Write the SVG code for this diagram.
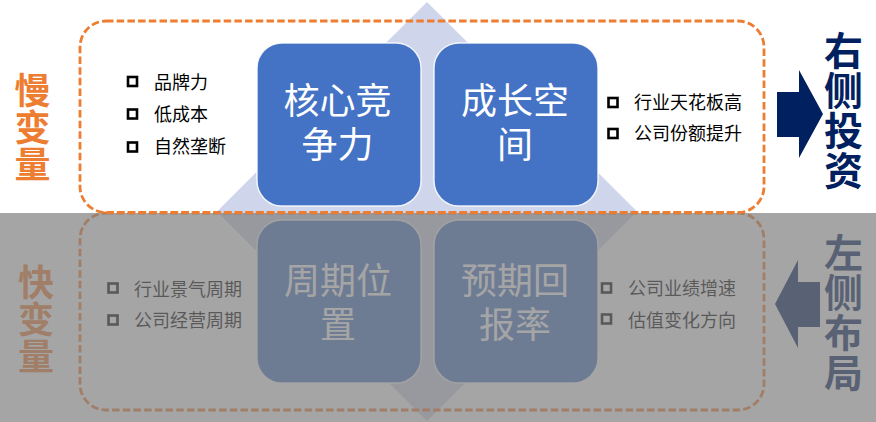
<svg xmlns="http://www.w3.org/2000/svg" width="876" height="422" viewBox="0 0 876 422">
<style>
.cjk{font-family:"Noto Sans CJK SC","Noto Sans",sans-serif}
.lbl{font-size:36px;font-weight:bold;writing-mode:vertical-rl;letter-spacing:1px}
.lblr{font-size:39px;font-weight:bold;writing-mode:vertical-rl;letter-spacing:1px}
.box{fill:#4472c4;stroke:#ffffff;stroke-width:1.5;stroke-opacity:0.85}
.boxt{font-size:36px;fill:#ffffff;text-anchor:middle}
.bul{font-size:18px;fill:#000000}
.sq{fill:none;stroke:#000000;stroke-width:2.6}
.dash{fill:none;stroke:#ed7d31;stroke-width:2.8;stroke-dasharray:7.5 3.2}
</style>
<rect x="0" y="0" width="876" height="422" fill="#ffffff"/>
<polygon id="diamond" points="427,2 637,211.5 427,421 217,211.5" fill="#cfd5ea"/>

<g id="lower">
  <rect id="fast-frame" class="dash" x="80" y="213" width="684" height="197" rx="26"/>
  <g id="cycle-position">
    <rect class="box" x="257" y="220" width="164" height="163" rx="25"/>
    <text class="cjk boxt"><tspan x="338" y="293.5">周期位</tspan><tspan x="338" y="337.5">置</tspan></text>
  </g>
  <g id="expected-return">
    <rect class="box" x="434" y="220" width="164" height="163" rx="25"/>
    <text class="cjk boxt"><tspan x="515" y="293.5">预期回</tspan><tspan x="515" y="337.5">报率</tspan></text>
  </g>
  <g id="fast-bullets-left">
    <rect class="sq" x="108.5" y="283.5" width="9" height="9"/>
    <rect class="sq" x="108.5" y="315.5" width="9" height="9"/>
    <text class="cjk bul" x="134" y="295.5">行业景气周期</text>
    <text class="cjk bul" x="134" y="326.5">公司经营周期</text>
  </g>
  <g id="fast-bullets-right">
    <rect class="sq" x="602" y="283.5" width="9" height="9"/>
    <rect class="sq" x="602" y="314.5" width="9" height="9"/>
    <text class="cjk bul" x="628" y="294.5">公司业绩增速</text>
    <text class="cjk bul" x="628" y="326.5">估值变化方向</text>
  </g>
  <g id="fast-label">
    <text class="cjk lbl" fill="#ed7d31" x="36" y="264">快变量</text>
  </g>
  <g id="left-layout">
    <polygon points="775,304 798,260 798,282 820,282 820,327 798,327 798,348" fill="#002060"/>
    <text class="cjk lblr" fill="#002060" x="843.5" y="232.5">左侧布局</text>
  </g>
</g>

<rect id="shade" x="0" y="213" width="876" height="209" fill="#7f7f7f" fill-opacity="0.7"/>

<g id="upper">
  <g id="core-competence">
    <rect class="box" x="257" y="43" width="164" height="163" rx="25"/>
    <text class="cjk boxt"><tspan x="337.5" y="113.5">核心竞</tspan><tspan x="337.5" y="157.5">争力</tspan></text>
  </g>
  <g id="growth-space">
    <rect class="box" x="434" y="43" width="164" height="163" rx="25"/>
    <text class="cjk boxt"><tspan x="515" y="113.5">成长空</tspan><tspan x="515" y="157.5">间</tspan></text>
  </g>
  <rect id="slow-frame" class="dash" x="80" y="21" width="684" height="191.5" rx="26"/>
  <g id="slow-bullets-left">
    <rect class="sq" x="128" y="77" width="9" height="9"/>
    <rect class="sq" x="128" y="109.5" width="9" height="9"/>
    <rect class="sq" x="128" y="142.5" width="9" height="9"/>
    <text class="cjk bul" x="154" y="88.5">品牌力</text>
    <text class="cjk bul" x="154" y="120.5">低成本</text>
    <text class="cjk bul" x="154" y="153">自然垄断</text>
  </g>
  <g id="slow-bullets-right">
    <rect class="sq" x="608.5" y="98" width="9" height="9"/>
    <rect class="sq" x="608.5" y="129" width="9" height="9"/>
    <text class="cjk bul" x="634" y="108.5">行业天花板高</text>
    <text class="cjk bul" x="634" y="139.5">公司份额提升</text>
  </g>
  <g id="slow-label">
    <text class="cjk lbl" fill="#ed7d31" x="32.5" y="72">慢变量</text>
  </g>
  <g id="right-invest">
    <polygon points="777,92 799,92 799,70 823,114 799,158 799,137 777,137" fill="#002060"/>
    <text class="cjk lblr" fill="#002060" x="843.5" y="30.5">右侧投资</text>
  </g>
</g>
</svg>
